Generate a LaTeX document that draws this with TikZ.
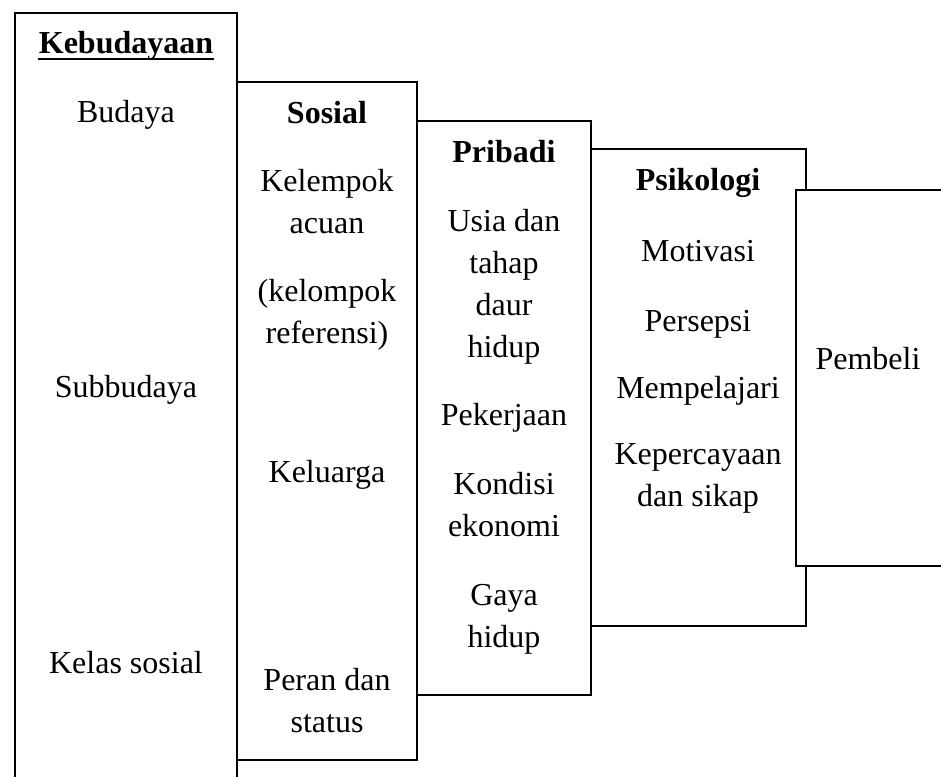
\documentclass[tikz,border=0pt]{standalone}
\usepackage{fontspec}
\setmainfont{Liberation Serif}
\usetikzlibrary{positioning}
\tikzset{
  panel/.style={draw=black, fill=white, line width=1pt},
  head/.style={font=\fontsize{16}{21}\selectfont\bfseries, anchor=base, inner sep=0pt},
  item/.style={font=\fontsize{16}{21}\selectfont, anchor=base, align=center, inner sep=0pt},
}
\newcommand{\Panel}[4]{% {left}{top}{right}{bottom}
  \draw[panel] (#1,#2) rectangle (#3,#4);}

\begin{document}
\begin{tikzpicture}[x=0.5pt,y=-0.5pt]
  \useasboundingbox (0,0) rectangle (941,776);
  \clip (0,0) rectangle (941,776);
  % Kebudayaan
  \Panel{14.5}{13}{237}{800}
  \node[head] (keb) at (126,54) {Kebudayaan};
  \draw[line width=1.1pt] ([yshift=-2.4pt]keb.base west) -- ([yshift=-2.4pt]keb.base east);
  \node[item] (budaya) at (126,122) {Budaya};
  \node[item] (subbudaya) at (126,397) {Subbudaya};
  \node[item] (kelas) at (126,673) {Kelas sosial};
  % Sosial (base = last line)
  \Panel{237}{82}{417}{760}
  \node[head] (sos) at (327,123) {Sosial};
  \node[item] (acuan) at (327,233) {Kelempok\\acuan};
  \node[item] (referensi) at (327,343) {(kelompok\\referensi)};
  \node[item] (keluarga) at (327,482) {Keluarga};
  \node[item] (peran) at (327,732) {Peran dan\\status};
  % Pribadi
  \Panel{417}{121}{591}{695}
  \node[head] (pri) at (504,162) {Pribadi};
  \node[item] (usia) at (504,357) {Usia dan\\tahap\\daur\\hidup};
  \node[item] (pekerjaan) at (504,425) {Pekerjaan};
  \node[item] (kondisi) at (504,536) {Kondisi\\ekonomi};
  \node[item] (gaya) at (504,647) {Gaya\\hidup};
  % Psikologi
  \Panel{591}{149}{805.5}{625.5}
  \node[head] (psi) at (698,190) {Psikologi};
  \node[item] (motivasi) at (698,261) {Motivasi};
  \node[item] (persepsi) at (698,331) {Persepsi};
  \node[item] (belajar) at (698,398) {Mempelajari};
  \node[item] (percaya) at (698,506) {Kepercayaan\\dan sikap};
  % Pembeli
  \Panel{795.5}{190}{960}{565.5}
  \node[item] (pembeli) at (868,369) {Pembeli};
\end{tikzpicture}
\end{document}
